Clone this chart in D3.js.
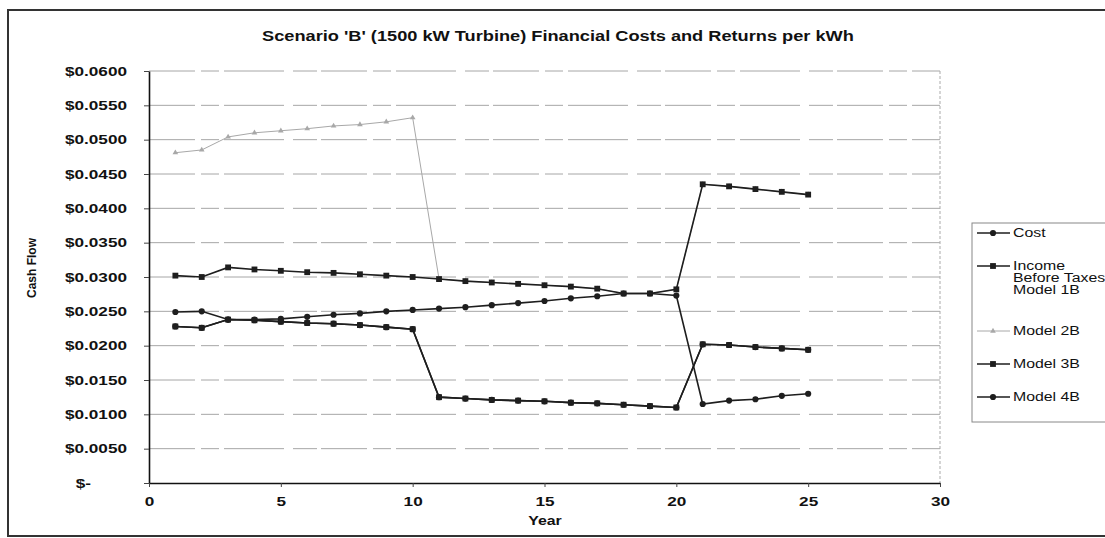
<!DOCTYPE html>
<html>
<head>
<meta charset="utf-8">
<script src="https://cdn.jsdelivr.net/npm/d3@7/dist/d3.min.js"></script>
<style>
  body { margin: 0; background: #fff; }
  svg { display: block; font-family: "Liberation Sans", Arial, sans-serif; }
</style>
</head>
<body>
<svg width="1105" height="538"></svg>
<script>
// Data (years 1..25, $ per kWh)
const years = [1, 2, 3, 4, 5, 6, 7, 8, 9, 10, 11, 12, 13, 14, 15, 16, 17, 18, 19, 20, 21, 22, 23, 24, 25];
const cost = [0.0249, 0.0250, 0.0238, 0.0238, 0.0239, 0.0242, 0.0245, 0.0247, 0.0250, 0.0252,
  0.0254, 0.0256, 0.0259, 0.0262, 0.0265, 0.0269, 0.0272, 0.0276, 0.0276, 0.0273,
  0.0115, 0.0120, 0.0122, 0.0127, 0.0130];
const model1B = [0.0302, 0.0300, 0.0314, 0.0311, 0.0309, 0.0307, 0.0306, 0.0304, 0.0302, 0.0300,
  0.0297, 0.0294, 0.0292, 0.0290, 0.0288, 0.0286, 0.0283, 0.0276, 0.0276, 0.0282,
  0.0435, 0.0432, 0.0428, 0.0424, 0.0420];
const model2B = [0.0481, 0.0485, 0.0504, 0.0510, 0.0513, 0.0516, 0.0520, 0.0522, 0.0526, 0.0532,
  0.0297, 0.0294, 0.0292, 0.0290, 0.0288, 0.0286, 0.0283, 0.0276, 0.0276, 0.0282,
  0.0435, 0.0432, 0.0428, 0.0424, 0.0420];
const model3B = [0.0228, 0.0226, 0.0238, 0.0237, 0.0235, 0.0233, 0.0232, 0.0230, 0.0227, 0.0224,
  0.0125, 0.0123, 0.0121, 0.0120, 0.0119, 0.0117, 0.0116, 0.0114, 0.0112, 0.0110,
  0.0202, 0.0201, 0.0198, 0.0196, 0.0194];
const model4B = [0.0228, 0.0226, 0.0238, 0.0237, 0.0235, 0.0233, 0.0232, 0.0230, 0.0227, 0.0224,
  0.0125, 0.0123, 0.0121, 0.0120, 0.0119, 0.0117, 0.0116, 0.0114, 0.0112, 0.0110,
  0.0202, 0.0201, 0.0198, 0.0196, 0.0194];
const yTicks = [0, 0.005, 0.01, 0.015, 0.02, 0.025, 0.03, 0.035, 0.04, 0.045, 0.05, 0.055, 0.06];
const xTicks = [0, 5, 10, 15, 20, 25, 30];

const title = "Scenario 'B' (1500 kW Turbine) Financial Costs and Returns per kWh";

// Series: drawn in this order (light one first)
const series = [
  { name: ["Model 2B"], values: model2B, color: "#a8a8a8", width: 1, symbol: d3.symbolTriangle, size: 14 },
  { name: ["Model 4B"], values: model4B, color: "#1e1e1e", width: 1.6, symbol: d3.symbolCircle, size: 30 },
  { name: ["Model 3B"], values: model3B, color: "#1e1e1e", width: 1.6, symbol: d3.symbolSquare, size: 34 },
  { name: ["Cost"], values: cost, color: "#1e1e1e", width: 1.6, symbol: d3.symbolCircle, size: 30 },
  { name: ["Income", "Before Taxes", "Model 1B"], values: model1B, color: "#1e1e1e", width: 1.6, symbol: d3.symbolSquare, size: 34 }
];
const legendOrder = ["Cost", "Income", "Model 2B", "Model 3B", "Model 4B"];

// The scanned chart is stretched sideways, so text gets widened too
const SX = 1.32;
function stretch(sel, k = SX) {
  sel.each(function () {
    const w = this.getComputedTextLength();
    this.setAttribute("textLength", w * k);
    this.setAttribute("lengthAdjust", "spacingAndGlyphs");
  });
}

const margin = { top: 71, right: 165, bottom: 55, left: 149 },
  width = 1105 - margin.left - margin.right,
  height = 538 - margin.top - margin.bottom;

const svg = d3.select("svg");

// Outer chart border (runs off the right side of the picture)
svg.append("rect")
  .attr("x", 8).attr("y", 10)
  .attr("width", 1120).attr("height", 526)
  .attr("fill", "none")
  .attr("stroke", "#333")
  .attr("stroke-width", 2);

// Title
svg.append("text")
  .attr("x", 558).attr("y", 41)
  .attr("text-anchor", "middle")
  .style("font-size", "14px")
  .style("font-weight", "bold")
  .attr("fill", "#111")
  .text(title)
  .call(stretch, 1.3);

const g = svg.append("g").attr("transform", `translate(${margin.left},${margin.top})`);

const x = d3.scaleLinear().domain([0, 30]).range([0, width]);
const y = d3.scaleLinear().domain([0, 0.06]).range([height, 0]);

// Horizontal grid lines (broken up like the scan)
g.selectAll(".grid")
  .data(yTicks.filter((d) => d > 0))
  .enter()
  .append("line")
  .attr("class", "grid")
  .attr("x1", 0).attr("x2", width)
  .attr("y1", (d) => y(d)).attr("y2", (d) => y(d))
  .attr("stroke", "#a6a6a6")
  .attr("stroke-width", 1)
  .attr("stroke-dasharray", "46,6,18,5,60,9,24,4");

// Right edge of plot area
g.append("line")
  .attr("x1", width).attr("x2", width)
  .attr("y1", 0).attr("y2", height)
  .attr("stroke", "#aaa")
  .attr("stroke-dasharray", "3,2");

// Y axis
const yAxis = g.append("g")
  .call(d3.axisLeft(y).tickValues(yTicks).tickSize(5).tickSizeOuter(0).tickPadding(17)
    .tickFormat((d) => (d === 0 ? "$-" : "$" + d3.format(".4f")(d))));
yAxis.select(".domain").attr("stroke", "#111").attr("stroke-width", 1.6);
yAxis.selectAll(".tick line").attr("stroke", "#444");
yAxis.selectAll("text")
  .style("font-size", "13px")
  .style("font-weight", "bold")
  .attr("fill", "#111")
  .call(stretch)
  .filter((d) => d === 0)
  .attr("dx", -36);

// X axis
const xAxis = g.append("g")
  .attr("transform", `translate(0,${height})`)
  .call(d3.axisBottom(x).tickValues(xTicks).tickSize(4).tickSizeOuter(0).tickPadding(10));
xAxis.select(".domain").attr("stroke", "#111").attr("stroke-width", 1.6);
xAxis.selectAll(".tick line").attr("stroke", "#444");
xAxis.selectAll("text")
  .style("font-size", "13px")
  .style("font-weight", "bold")
  .attr("fill", "#111")
  .call(stretch);

// Axis titles
svg.append("text")
  .attr("x", 545).attr("y", 525)
  .attr("text-anchor", "middle")
  .style("font-size", "12px")
  .style("font-weight", "bold")
  .attr("fill", "#111")
  .text("Year")
  .call(stretch);

svg.append("text")
  .attr("transform", "translate(36,268) rotate(-90)")
  .attr("text-anchor", "middle")
  .style("font-size", "12px")
  .style("font-weight", "bold")
  .attr("fill", "#111")
  .text("Cash Flow");

// Lines and markers
const line = d3.line()
  .x((d, i) => x(years[i]))
  .y((d) => y(d));

series.forEach((s) => {
  g.append("path")
    .datum(s.values)
    .attr("fill", "none")
    .attr("stroke", s.color)
    .attr("stroke-width", s.width)
    .attr("d", line);

  g.selectAll(null)
    .data(s.values)
    .enter()
    .append("path")
    .attr("transform", (d, i) => `translate(${x(years[i])},${y(d)})`)
    .attr("d", d3.symbol().type(s.symbol).size(s.size))
    .attr("fill", s.color);
});

// Legend
const legend = svg.append("g").attr("transform", "translate(972,223)");
legend.append("rect")
  .attr("width", 180).attr("height", 199)
  .attr("fill", "#fff")
  .attr("stroke", "#888")
  .attr("stroke-width", 1);

let ly = 10;
legendOrder.forEach((key) => {
  const s = series.find((d) => d.name[0] === key);
  const item = legend.append("g").attr("transform", `translate(0,${ly})`);
  item.append("line")
    .attr("x1", 5).attr("x2", 38)
    .attr("stroke", s.color)
    .attr("stroke-width", s.width);
  item.append("path")
    .attr("transform", "translate(21,0)")
    .attr("d", d3.symbol().type(s.symbol).size(s.size))
    .attr("fill", s.color);
  s.name.forEach((t, j) => {
    item.append("text")
      .attr("x", 41).attr("y", j * 12)
      .attr("dy", "0.35em")
      .style("font-size", "12px")
      .attr("fill", "#111")
      .text(t)
      .call(stretch);
  });
  ly += 33 + (s.name.length - 1) * 16;
});
</script>
</body>
</html>
